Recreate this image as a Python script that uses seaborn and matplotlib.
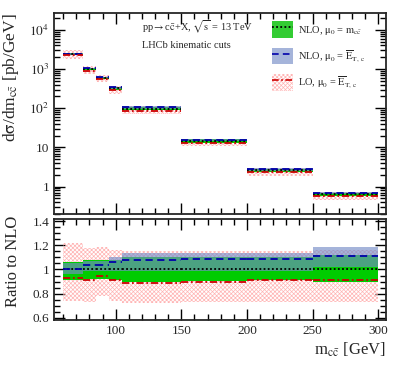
import numpy as np
import pandas as pd
import matplotlib
matplotlib.use("Agg")
import matplotlib.pyplot as plt
import seaborn as sns
from matplotlib.patches import Patch
from matplotlib.lines import Line2D
from matplotlib.ticker import MultipleLocator, LogLocator, FuncFormatter, NullFormatter

# bin edges in m_cc [GeV]
edges = [60, 75, 85, 95, 105, 150, 200, 250, 300]

# NLO, mu0 = m_cc central value [pb/GeV]
nlo_mcc = [2450, 1000, 590, 320, 98, 14.5, 2.6, 0.63]

# everything else as ratio to NLO (mu0 = m_cc)
nlo_mcc_lo = [0.91, 0.92, 0.92, 0.91, 0.90, 0.905, 0.91, 0.90]
nlo_mcc_hi = [1.06, 1.075, 1.075, 1.08, 1.10, 1.10, 1.10, 1.12]
nlo_et_c = [1.005, 1.035, 1.035, 1.06, 1.075, 1.085, 1.085, 1.11]
nlo_et_lo = [0.96, 0.985, 0.985, 0.99, 0.985, 0.99, 0.99, 1.02]
nlo_et_hi = [1.05, 1.07, 1.07, 1.10, 1.14, 1.14, 1.14, 1.19]
lo_et_c = [0.93, 0.91, 0.95, 0.91, 0.89, 0.90, 0.915, 0.91]
lo_et_lo = [0.74, 0.73, 0.78, 0.74, 0.72, 0.73, 0.73, 0.73]
lo_et_hi = [1.22, 1.18, 1.19, 1.16, 1.15, 1.15, 1.15, 1.16]

labels = [r"NLO, $\mathrm{\mu_0}$ = $\mathrm{m_{c\bar{c}}}$",
          r"NLO, $\mathrm{\mu_0}$ = $\mathrm{\overline{E}_{T,\,c}}$",
          r"LO, $\mathrm{\mu_0}$ = $\mathrm{\overline{E}_{T,\,c}}$"]

sns.set_style("ticks")
plt.rcParams["font.family"] = ["Liberation Serif", "DejaVu Serif"]
plt.rcParams["mathtext.fontset"] = "stix"
plt.rcParams["hatch.linewidth"] = 0.5

green = "#00cc00"
blue = (0.46, 0.55, 0.78)
pink = "#ffb4b4"
navy = "#0000aa"
red = "#cc0000"

fig = plt.figure(figsize=(4.07, 3.65), dpi=100)
W, H = 407, 365
ax1 = fig.add_axes([54 / W, 1 - 214 / H, 332 / W, 201 / H])
ax2 = fig.add_axes([54 / W, 1 - 320 / H, 332 / W, 101 / H])

e = np.array(edges)
c = np.array(nlo_mcc)
hatch = "xxxxxxxx"


def draw(ax, scale):
    ax.stairs(np.array(lo_et_hi) * scale, e, baseline=np.array(lo_et_lo) * scale,
              fill=True, facecolor="none", edgecolor=pink, hatch=hatch, linewidth=0, zorder=1)
    ax.stairs(np.array(nlo_mcc_hi) * scale, e, baseline=np.array(nlo_mcc_lo) * scale,
              fill=True, color=green, linewidth=0, zorder=2)
    ax.stairs(np.array(nlo_et_hi) * scale, e, baseline=np.array(nlo_et_lo) * scale,
              fill=True, color=blue, alpha=0.65, linewidth=0, zorder=3)
    rows = []
    series = {"nlo": np.ones(len(c)), "et": np.array(nlo_et_c), "lo": np.array(lo_et_c)}
    for name, vals in series.items():
        for i in range(len(c)):
            y = vals[i] * scale[i]
            rows.append((name, i, e[i], y))
            rows.append((name, i, e[i + 1], y))
    df = pd.DataFrame(rows, columns=["series", "bin", "x", "y"])
    sns.lineplot(data=df, x="x", y="y", hue="series", style="series", units="bin",
                 estimator=None, palette={"nlo": "black", "et": navy, "lo": red},
                 dashes={"nlo": (1, 1.3), "et": (4, 2.5), "lo": (4, 1.5, 1, 1.5)},
                 linewidth=1.3, legend=False, ax=ax, zorder=4)


draw(ax1, c)
draw(ax2, np.ones(len(c)))

for ax in (ax1, ax2):
    ax.set_xlim(53, 306)
    ax.xaxis.set_major_locator(MultipleLocator(50))
    ax.xaxis.set_minor_locator(MultipleLocator(10))
    ax.tick_params(which="both", direction="in", top=True, right=True, width=1.0,
                   labelsize=9.5, color="black")
    ax.tick_params(which="major", length=8)
    ax.tick_params(which="minor", length=4)
    for s in ax.spines.values():
        s.set_linewidth(1.3)
    ax.set_xlabel("")
    ax.set_ylabel("")

ax1.set_yscale("log")
ax1.set_ylim(0.2, 2.7e4)
ax1.yaxis.set_major_locator(LogLocator(base=10, numticks=10))
ax1.yaxis.set_minor_locator(LogLocator(base=10, subs=np.arange(2, 10), numticks=20))
ax1.yaxis.set_minor_formatter(NullFormatter())


def logfmt(v, pos):
    n = int(round(np.log10(v)))
    if n == 0:
        return "1"
    if n == 1:
        return "10"
    return r"$\mathrm{10^{%d}}$" % n


ax1.yaxis.set_major_formatter(FuncFormatter(logfmt))
ax1.tick_params(axis="x", labelbottom=False)
ax1.set_ylabel(r"d$\mathrm{\sigma}$/dm$_{\mathrm{c\bar{c}}}$ [pb/GeV]", fontsize=12.5, loc="top")
ax1.yaxis.set_label_coords(-0.1, 1.0)

ax2.set_ylim(0.58, 1.42)
ax2.yaxis.set_major_locator(MultipleLocator(0.2))
ax2.yaxis.set_minor_locator(MultipleLocator(0.05))
ax2.yaxis.set_major_formatter(FuncFormatter(lambda v, p: f"{v:g}"))
ax2.set_ylabel("Ratio to NLO", fontsize=12, loc="top")
ax2.yaxis.set_label_coords(-0.1, 1.03)
ax2.set_xlabel(r"m$_{\mathrm{c\bar{c}}}$ [GeV]", fontsize=12, loc="right")
ax2.xaxis.set_label_coords(1.0, -0.2)

fig.text(142 / W, 1 - 27 / H, r"pp$\rightarrow$c$\mathrm{\bar{c}}$+X, $\sqrt{\mathrm{s}}$ = 13 TeV",
         fontsize=7.5, va="center", ha="left")
fig.text(142 / W, 1 - 45 / H, "LHCb kinematic cuts", fontsize=7.5, va="center", ha="left")

handles = [
    (Patch(facecolor="#33cc33", edgecolor="none"),
     Line2D([], [], color="black", linestyle=(0, (1, 1.3)), linewidth=1.3)),
    (Patch(facecolor=blue, alpha=0.65, edgecolor="none"),
     Line2D([], [], color=navy, linestyle=(0, (4, 2.5)), linewidth=1.2)),
    (Patch(facecolor="none", edgecolor=pink, hatch=hatch, linewidth=0),
     Line2D([], [], color=red, linestyle=(0, (4, 1.5, 1, 1.5)), linewidth=1.2)),
]
fig.legend(handles, labels, loc="upper left", bbox_to_anchor=(272 / W, 1 - 21 / H),
           frameon=False, fontsize=7.5, handlelength=2.0, handleheight=2.1,
           labelspacing=0.95, handletextpad=0.5, borderpad=0, borderaxespad=0)

fig.savefig("out.png", dpi=100)
